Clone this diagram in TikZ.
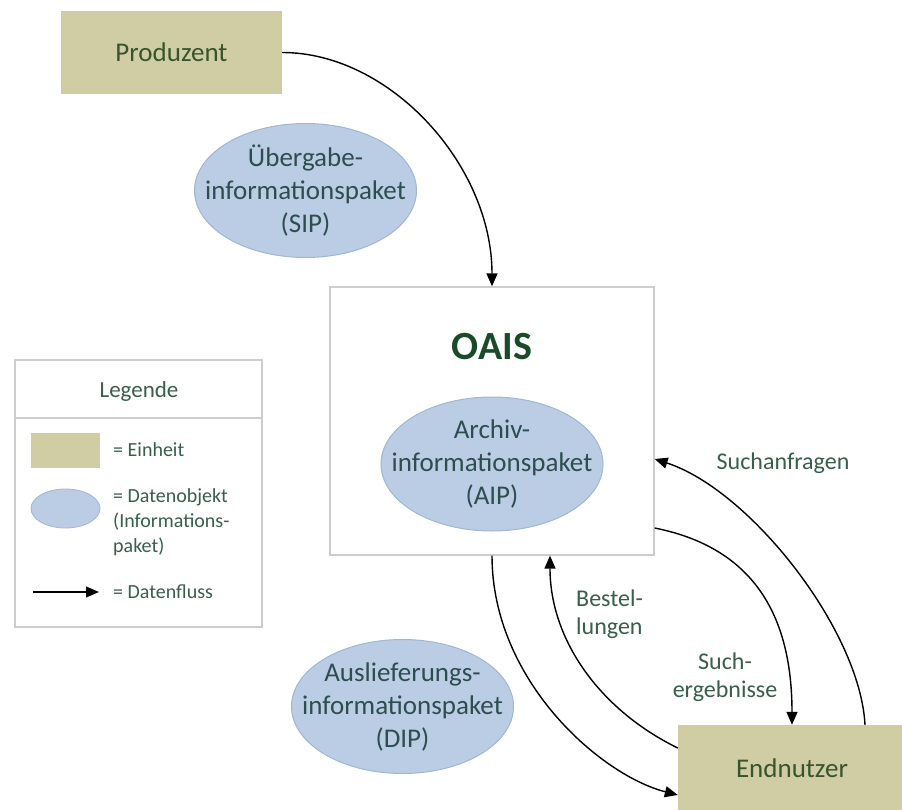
\documentclass[tikz,border=0pt]{standalone}
\usepackage{fontspec}
\setmainfont{Carlito}
\usetikzlibrary{arrows.meta,shapes.geometric}
\definecolor{unitfill}{RGB}{208,205,164}
\definecolor{objfill}{RGB}{186,205,229}
\definecolor{objborder}{RGB}{160,182,210}
\definecolor{unittext}{RGB}{55,85,45}
\definecolor{oaisgreen}{RGB}{25,75,40}
\definecolor{objtext}{RGB}{45,78,78}
\definecolor{labelgreen}{RGB}{55,95,75}
\definecolor{boxgray}{RGB}{205,205,205}
\begin{document}
\begin{tikzpicture}[x=1pt,y=-1pt,
  unitbox/.style={rectangle, fill=unitfill, draw=none, inner sep=0pt},
  unitlabel/.style={text=unittext, font=\fontsize{27}{33}\selectfont, inner sep=0pt},
  dataobj/.style={ellipse, fill=objfill, draw=objborder, line width=1pt, inner sep=0pt, minimum width=222pt, minimum height=134pt},
  objlabel/.style={text=objtext, font=\fontsize{27}{33}\selectfont, align=center, inner sep=0pt},
  framebox/.style={rectangle, draw=boxgray, line width=1.3pt, fill=white, inner sep=0pt},
  flow/.style={line width=1.4pt, -{Triangle[length=13pt,width=11pt]}},
  flowlabel/.style={text=labelgreen, font=\fontsize{24}{28}\selectfont, inner sep=0pt},
  legtext/.style={text=labelgreen, font=\fontsize{20}{25}\selectfont, inner sep=0pt, align=left, anchor=west}
]
\useasboundingbox (0,0) rectangle (902,810);
\clip (0,0) rectangle (902,810);
\fill[white] (0,0) rectangle (902,810);

% Produzent
\node[unitbox, minimum width=221pt, minimum height=83pt] (prod) at (171.5,52.5) {};
\node[unitlabel] (prodtxt) at (prod) {Produzent};

% SIP
\node[dataobj] (sip) at (305.5,190.5) {};
\node[objlabel] (siptxt) at (sip) {Übergabe-\\informationspaket\\(SIP)};

% OAIS
\node[framebox, minimum width=324pt, minimum height=268pt] (oais) at (492,421) {};
\node[text=oaisgreen, font=\fontsize{40}{46}\selectfont\bfseries, inner sep=0pt] (oaistitle) at (492,347) {OAIS};
\node[dataobj] (aip) at (492,464) {};
\node[objlabel] (aiptxt) at (aip) {Archiv-\\informationspaket\\(AIP)};

% DIP
\node[dataobj] (dip) at (402.5,706.5) {};
\node[objlabel] (diptxt) at (dip) {Auslieferungs-\\informationspaket\\(DIP)};

% Endnutzer
\node[unitbox, minimum width=228pt, minimum height=86pt] (endn) at (792,768) {};
\node[unitlabel] (endntxt) at (endn) {Endnutzer};

% Legend
\node[framebox, minimum width=247pt, minimum height=267pt] (leg) at (138.5,493.5) {};
\coordinate (legdl) at (15,418);
\coordinate (legdr) at (262,418);
\draw[boxgray, line width=1.3pt] (legdl) -- (legdr);
\node[text=labelgreen, font=\fontsize{23}{28}\selectfont, inner sep=0pt] (legtitle) at (139,391) {Legende};
\node[unitbox, minimum width=69pt, minimum height=35pt] (legunit) at (65.5,450.5) {};
\node[legtext] (legunittxt) at (113,450) {= Einheit};
\node[ellipse, fill=objfill, draw=objborder, line width=0.8pt, inner sep=0pt, minimum width=69pt, minimum height=39pt] (legobj) at (65.5,508.5) {};
\node[legtext] (legobjtxt) at (113,522) {= Datenobjekt\\(Informations-\\paket)};
\coordinate (legaa) at (33,592);
\coordinate (legab) at (99,592);
\draw[flow] (legaa) -- (legab);
\node[legtext] (legflowtxt) at (113,592) {= Datenfluss};

% Flows
\draw[flow] (prod.east) .. controls (390,52.5) and (492,165) .. (oais.north);
\draw[flow] (oais.south) .. controls (492,680) and (600,775) .. ([yshift=-27pt]endn.west);
\draw[flow] ([yshift=20pt]endn.west) .. controls (600,710) and (550,640) .. ([xshift=58pt]oais.south);
\draw[flow] ([yshift=-107pt]oais.east) .. controls (740,545) and (792,600) .. (endn.north);
\draw[flow] ([xshift=73pt]endn.north) .. controls (860,630) and (750,490) .. ([yshift=-38pt]oais.east);

% Flow labels
\node[flowlabel] (lsuchanf) at (783,463) {Suchanfragen};
\node[flowlabel, align=left, anchor=west] (lbest) at (576,614) {Bestel-\\lungen};
\node[flowlabel, align=center] (lsucherg) at (725,677) {Such-\\ergebnisse};
\end{tikzpicture}
\end{document}
